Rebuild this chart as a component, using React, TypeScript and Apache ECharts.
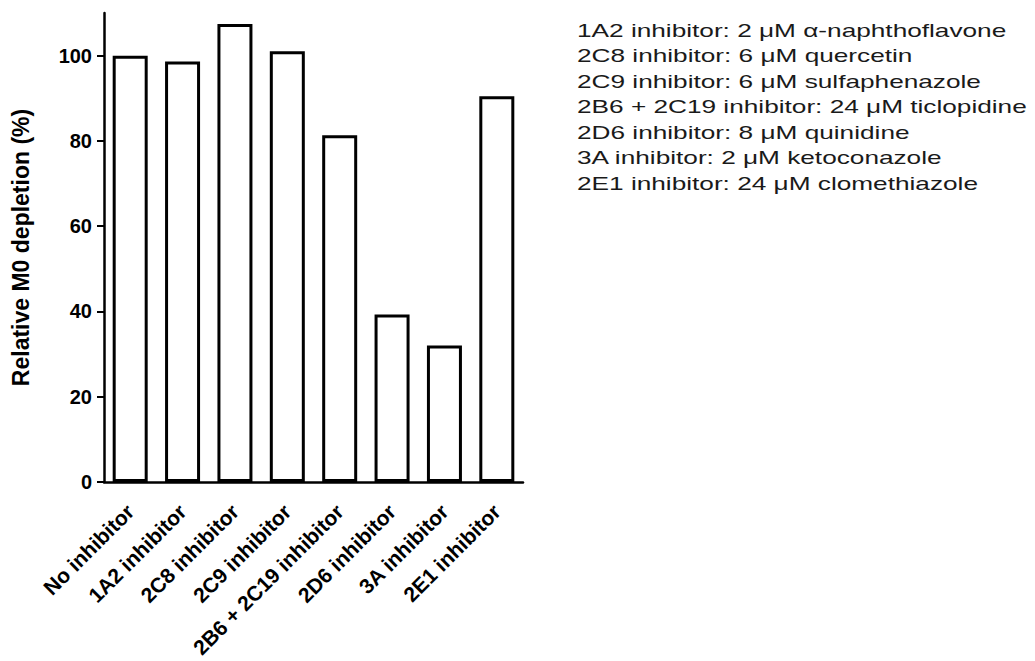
import React, { useEffect, useRef } from "react";
import * as echarts from "echarts";

const categories = [
  "No inhibitor",
  "1A2 inhibitor",
  "2C8 inhibitor",
  "2C9 inhibitor",
  "2B6 + 2C19 inhibitor",
  "2D6 inhibitor",
  "3A inhibitor",
  "2E1 inhibitor",
];
const depletion = [100, 98.6, 107.4, 101, 81.3, 39.3, 32, 90.5];
const yTicks = [0, 20, 40, 60, 80, 100];
const notes = [
  "1A2 inhibitor: 2 μM α-naphthoflavone",
  "2C8 inhibitor: 6 μM quercetin",
  "2C9 inhibitor: 6 μM sulfaphenazole",
  "2B6 + 2C19 inhibitor: 24 μM ticlopidine",
  "2D6 inhibitor: 8 μM quinidine",
  "3A inhibitor: 2 μM ketoconazole",
  "2E1 inhibitor: 24 μM clomethiazole",
];

const FONT = 'Arial, "Liberation Sans", sans-serif';

export default function App() {
  const ref = useRef<HTMLDivElement>(null);
  useEffect(() => {
    if (!ref.current) return;
    const chart = echarts.init(ref.current, null, { renderer: "svg" });
    chart.setOption({
      animation: false,
      backgroundColor: "#ffffff",
      grid: { left: 104, right: 512, top: 13, bottom: 179, containLabel: false },
      xAxis: {
        type: "category",
        data: categories,
        axisLine: { lineStyle: { color: "#000", width: 2.5 } },
        axisTick: { alignWithLabel: true, length: 7, lineStyle: { color: "#000", width: 2 } },
        axisLabel: {
          rotate: 45,
          margin: 26,
          interval: 0,
          color: "#000",
          fontFamily: FONT,
          fontWeight: "bold",
          fontSize: 21,
        },
      },
      yAxis: {
        type: "value",
        min: 0,
        max: 110,
        interval: 20,
        name: "Relative M0 depletion (%)",
        nameLocation: "middle",
        nameRotate: 90,
        nameGap: 72,
        nameTextStyle: { color: "#000", fontFamily: FONT, fontWeight: "bold", fontSize: 23 },
        splitLine: { show: false },
        axisLine: { show: true, lineStyle: { color: "#000", width: 2.5 } },
        axisTick: { show: true, length: 7, customValues: yTicks, lineStyle: { color: "#000", width: 2 } },
        axisLabel: {
          customValues: yTicks,
          margin: 12,
          color: "#000",
          fontFamily: FONT,
          fontWeight: "bold",
          fontSize: 20,
        },
      },
      series: [
        {
          type: "bar",
          data: depletion,
          barWidth: 35,
          itemStyle: { color: "#ffffff", borderColor: "#000", borderWidth: 3 },
        },
      ],
      graphic: [
        {
          type: "group",
          x: 577,
          y: 0,
          scaleX: 1.38,
          children: notes.map((t, i) => ({
            type: "text",
            x: 0,
            y: 30 + i * 25.5,
            style: {
              text: t,
              fill: "#1a1a1a",
              font: `19px ${FONT}`,
              verticalAlign: "middle",
              align: "left",
            },
          })),
        },
      ],
    });
    return () => chart.dispose();
  }, []);
  return (
    <div
      ref={ref}
      style={{ position: "absolute", left: 0, top: 0, width: 1035, height: 661 }}
    />
  );
}
